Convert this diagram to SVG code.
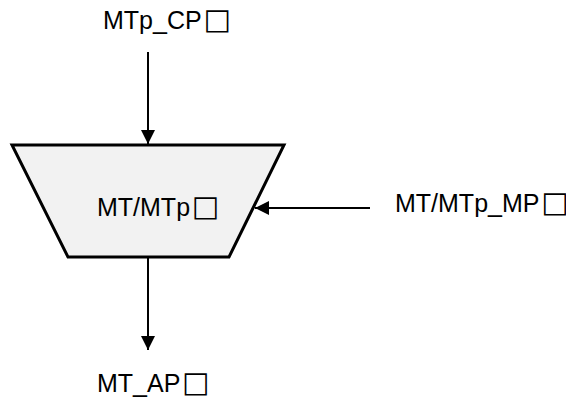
<svg xmlns="http://www.w3.org/2000/svg" width="566" height="405" viewBox="0 0 566 405">
<style>
text{font-family:"Liberation Sans",Arial,"DejaVu Sans",sans-serif;font-size:25px;fill:#000}
.sq{font-family:"DejaVu Sans",sans-serif;font-size:29px}
.ln{stroke:#000;stroke-width:2;fill:none}
.shape{fill:#f2f2f2;stroke:#000;stroke-width:3;stroke-linejoin:miter}
</style>
<defs>
<marker id="ah" markerWidth="14" markerHeight="14" viewBox="0 0 14 14" refX="14" refY="7" orient="auto" markerUnits="userSpaceOnUse">
<path d="M0,0 L14,7 L0,14 Z" fill="#000"/>
</marker>
</defs>
<rect width="566" height="405" fill="#fff"/>
<g id="connectors">
<line class="ln" x1="148" y1="52" x2="148" y2="144" marker-end="url(#ah)"/>
<line class="ln" x1="148" y1="258" x2="148" y2="350" marker-end="url(#ah)"/>
<line class="ln" x1="370" y1="208" x2="255" y2="208" marker-end="url(#ah)"/>
</g>
<g id="node-mt">
<polygon class="shape" points="12,145 284,145 229,257 68,257"/>
<text x="97" y="216">MT/MTp<tspan class="sq" dx="2">□</tspan></text>
</g>
<g id="label-cp"><text x="103" y="29">MTp_CP<tspan class="sq" dx="2">□</tspan></text></g>
<g id="label-mp"><text x="395" y="212">MT/MTp_MP<tspan class="sq" dx="2">□</tspan></text></g>
<g id="label-ap"><text x="97" y="392">MT_AP<tspan class="sq" dx="2">□</tspan></text></g>
</svg>
